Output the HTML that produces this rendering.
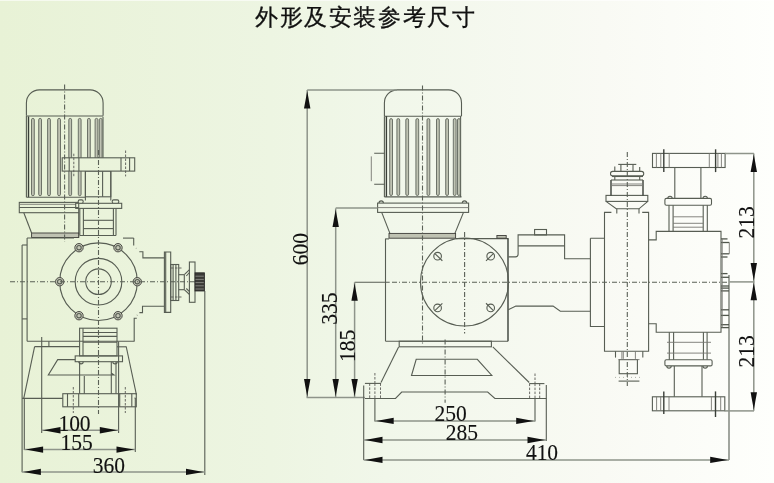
<!DOCTYPE html>
<html><head><meta charset="utf-8">
<style>
html,body{margin:0;padding:0;}
body{width:774px;height:483px;overflow:hidden;position:relative;
background:linear-gradient(to right,#e8f2d6 0%,#edf5e2 35%,#f1f7ea 50%,#f9faf4 78%,#fefffc 100%);
font-family:"Liberation Sans",sans-serif;}
.title{will-change:transform;position:absolute;left:255px;top:1.5px;font-size:23px;letter-spacing:1.6px;color:#111;white-space:nowrap;-webkit-text-stroke:0.3px #111;}
svg{position:absolute;left:0;top:0;will-change:transform;}
.l{fill:none;stroke:#575d53;stroke-width:1.1;}
.lt{fill:none;stroke:#3a3f38;stroke-width:1.4;}
.th{fill:none;stroke:#777772;stroke-width:0.9;}
.dd{fill:none;stroke:#5a6056;stroke-width:1.1;stroke-dasharray:5 2 1 2;}
.ds{fill:none;stroke:#5a5a56;stroke-width:0.9;stroke-dasharray:2.5 1.5;}
.dm{fill:none;stroke:#8e948a;stroke-width:1.5;}
.fin{fill:#bfc3b3;stroke:#5a6056;stroke-width:0.85;}
.gf{fill:#bfc2b2;stroke:#3c3c38;stroke-width:0.9;}
.lb{fill:url(#bg);stroke:#575d53;stroke-width:1.1;}
.spl{stroke:#8a8a84;stroke-width:0.9;}
.dot{fill:none;stroke:#9a9e95;stroke-width:0.8;stroke-dasharray:1 3;}
.nb{fill:none;stroke:#50564c;stroke-width:1.3;}
.ar{fill:#111;stroke:none;}
.t{font-family:"Liberation Serif",serif;font-size:21.5px;fill:#111;stroke:#111;stroke-width:0.12;}
</style></head><body>
<div style="position:absolute;left:0;top:0;width:774px;height:1px;background:rgba(255,255,255,0.6)"></div>
<div class="title">外形及安装参考尺寸</div>
<svg width="774" height="483" viewBox="0 0 774 483">
<defs><linearGradient id="bg" gradientUnits="userSpaceOnUse" x1="0" y1="0" x2="774" y2="0"><stop offset="0" stop-color="#e8f2d6"/><stop offset="0.35" stop-color="#edf5e2"/><stop offset="0.5" stop-color="#f1f7ea"/><stop offset="0.78" stop-color="#f9faf4"/><stop offset="1" stop-color="#fefffc"/></linearGradient></defs>
<path class="l" d="M26.4,115.8 V102.9 A13,13 0 0 1 39.4,89.9 H90.1 A13,13 0 0 1 103.1,102.9 V115.8"/>
<line class="l" x1="26.4" y1="116" x2="103.1" y2="116"/>
<line class="l" x1="26.4" y1="116" x2="26.4" y2="197.3"/>
<line class="lt" x1="28.5" y1="116.5" x2="28.5" y2="197.3"/>
<line class="l" x1="103" y1="116.8" x2="103" y2="197"/>
<rect class="fin" x="31.5" y="118.4" width="2.8" height="77.3" rx="1.4"/>
<rect class="fin" x="38.7" y="118.4" width="2.8" height="77.3" rx="1.4"/>
<rect class="fin" x="47.6" y="118.4" width="2.8" height="77.3" rx="1.4"/>
<rect class="fin" x="57.7" y="118.4" width="2.8" height="77.3" rx="1.4"/>
<rect class="fin" x="68.8" y="118.4" width="2.8" height="77.3" rx="1.4"/>
<rect class="fin" x="78.3" y="118.4" width="2.8" height="77.3" rx="1.4"/>
<rect class="fin" x="87.5" y="118.4" width="2.8" height="77.3" rx="1.4"/>
<rect class="fin" x="95.1" y="118.4" width="2.8" height="77.3" rx="1.4"/>
<rect class="fin" x="99.3" y="118.4" width="2.8" height="77.3" rx="1.4"/>
<line class="l" x1="26.4" y1="197.3" x2="85.4" y2="197.3"/>
<rect class="lb" x="85.4" y="171.1" width="25.4" height="25.7"/>
<line class="l" x1="102.6" y1="171.1" x2="102.6" y2="196.8"/>
<rect class="lb" x="62.2" y="157.8" width="72.5" height="13.3"/>
<line class="l" x1="69.2" y1="157.8" x2="69.2" y2="171.1"/>
<line class="l" x1="78.9" y1="157.8" x2="78.9" y2="171.1"/>
<line class="l" x1="121" y1="157.8" x2="121" y2="171.1"/>
<line class="l" x1="129.6" y1="157.8" x2="129.6" y2="171.1"/>
<line class="ds" x1="73.8" y1="153.7" x2="73.8" y2="176.2"/>
<line class="ds" x1="125.6" y1="150.5" x2="125.6" y2="176.4"/>
<line class="l" x1="85.4" y1="171.1" x2="85.4" y2="200.5"/>
<line class="l" x1="110.8" y1="171.1" x2="110.8" y2="200.5"/>
<rect class="l" x="19.3" y="202.4" width="59.4" height="10.3"/>
<line class="l" x1="19.3" y1="207.5" x2="78.7" y2="207.5"/>
<line class="th" x1="19.3" y1="204.3" x2="76" y2="204.3"/>
<line class="l" x1="23.8" y1="212.7" x2="31.6" y2="233"/>
<line class="l" x1="78.7" y1="212.7" x2="78.7" y2="237.5"/>
<rect class="gf" x="31.6" y="233" width="47.1" height="4.5"/>
<rect class="l" x="75.7" y="203.3" width="46.0" height="5.1"/>
<rect class="lb" x="78.2" y="199.9" width="5.0" height="3.4" rx="1.5"/>
<rect class="lb" x="112.2" y="199.9" width="6.6" height="3.4" rx="1.5"/>
<line class="l" x1="79.8" y1="208.4" x2="79.8" y2="235.5"/>
<line class="l" x1="83.4" y1="208.4" x2="83.4" y2="235.5"/>
<line class="l" x1="113.4" y1="208.4" x2="113.4" y2="235.5"/>
<line class="l" x1="116" y1="208.4" x2="116" y2="235.5"/>
<line class="l" x1="83.4" y1="220.3" x2="113.4" y2="220.3"/>
<line class="l" x1="83.4" y1="228.6" x2="113.4" y2="228.6"/>
<line class="l" x1="27.1" y1="238" x2="74" y2="238"/>
<line class="l" x1="123" y1="238.1" x2="133.7" y2="238.1"/>
<line class="l" x1="79.8" y1="235.5" x2="116" y2="235.5"/>
<line class="l" x1="27.1" y1="238" x2="27.1" y2="341.3"/>
<line class="l" x1="22.1" y1="245" x2="27.1" y2="245"/>
<line class="l" x1="22.1" y1="318.9" x2="27.1" y2="318.9"/>
<line class="l" x1="22.1" y1="245" x2="22.1" y2="472.3"/>
<line class="l" x1="27.1" y1="341.3" x2="134.5" y2="341.3"/>
<path class="l" d="M133.7,238 V245.6"/>
<line class="l" x1="136" y1="248.1" x2="136.3" y2="248.4"/>
<path class="l" d="M139.3,251.7 H142.9 V257.9 H164.4"/>
<path class="l" d="M164.4,306.2 H142.5 V312.6 H139.4"/>
<line class="l" x1="137" y1="315.3" x2="137.3" y2="315.0"/>
<path class="l" d="M136.8,318.3 H134.2 V341.3"/>
<circle class="l" cx="98.5" cy="281.7" r="38.8"/>
<circle class="l" cx="98.5" cy="281.7" r="23.3"/>
<circle class="l" cx="98.5" cy="281.7" r="12.8"/>
<circle cx="79" cy="247.7" r="4.2" fill="#c4c7b6" stroke="#3c3c38" stroke-width="0.9"/>
<circle class="l" cx="79" cy="247.7" r="2.2"/>
<circle cx="118" cy="247.7" r="4.2" fill="#c4c7b6" stroke="#3c3c38" stroke-width="0.9"/>
<circle class="l" cx="118" cy="247.7" r="2.2"/>
<circle cx="59.7" cy="281.7" r="4.2" fill="#c4c7b6" stroke="#3c3c38" stroke-width="0.9"/>
<circle class="l" cx="59.7" cy="281.7" r="2.2"/>
<circle cx="137.3" cy="281.7" r="4.2" fill="#c4c7b6" stroke="#3c3c38" stroke-width="0.9"/>
<circle class="l" cx="137.3" cy="281.7" r="2.2"/>
<circle cx="79" cy="315.7" r="4.2" fill="#c4c7b6" stroke="#3c3c38" stroke-width="0.9"/>
<circle class="l" cx="79" cy="315.7" r="2.2"/>
<circle cx="118" cy="315.7" r="4.2" fill="#c4c7b6" stroke="#3c3c38" stroke-width="0.9"/>
<circle class="l" cx="118" cy="315.7" r="2.2"/>
<line class="dd" x1="10" y1="281.7" x2="205" y2="281.7"/>
<line class="dd" x1="98.5" y1="150" x2="98.5" y2="414"/>
<line class="dd" x1="64.6" y1="84.5" x2="64.6" y2="241.8"/>
<rect class="l" x="79.6" y="328.2" width="37.4" height="27.7"/>
<line class="l" x1="83" y1="328.2" x2="83" y2="355.9"/>
<line class="l" x1="83" y1="332.5" x2="117" y2="332.5"/>
<line class="l" x1="83" y1="336.4" x2="117" y2="336.4"/>
<line class="l" x1="83" y1="342.3" x2="117" y2="342.3"/>
<rect class="l" x="75.2" y="355.9" width="47.3" height="5.8"/>
<path class="l" d="M78.8,361.7 A2.2,2.2 0 0 0 83.2,361.7"/>
<path class="l" d="M112.8,361.7 A2.2,2.2 0 0 0 117.2,361.7"/>
<line class="l" x1="79.6" y1="361.7" x2="79.6" y2="393.7"/>
<line class="l" x1="84.3" y1="376" x2="84.3" y2="393.7"/>
<line class="l" x1="111.3" y1="361.7" x2="111.3" y2="393.7"/>
<line class="l" x1="116" y1="361.7" x2="116" y2="393.7"/>
<rect class="l" x="62.8" y="393.7" width="73.5" height="13.1"/>
<line class="l" x1="67.5" y1="393.7" x2="67.5" y2="406.8"/>
<line class="l" x1="78.7" y1="393.7" x2="78.7" y2="406.8"/>
<line class="l" x1="119.7" y1="393.7" x2="119.7" y2="406.8"/>
<line class="l" x1="131.8" y1="393.7" x2="131.8" y2="406.8"/>
<line class="ds" x1="73.3" y1="387" x2="73.3" y2="413"/>
<line class="ds" x1="125.3" y1="387" x2="125.3" y2="413"/>
<line class="l" x1="34.6" y1="346.6" x2="79.6" y2="346.6"/>
<line class="l" x1="117" y1="346.8" x2="126.3" y2="346.8"/>
<line class="l" x1="48.9" y1="341.3" x2="48.9" y2="346.8"/>
<line class="l" x1="34.6" y1="346.6" x2="23.7" y2="398.6"/>
<line class="l" x1="126.2" y1="346.5" x2="136.4" y2="394.6"/>
<line class="l" x1="22.1" y1="398.4" x2="62.8" y2="398.4"/>
<line class="l" x1="134.5" y1="398" x2="135.5" y2="398"/>
<line class="l" x1="24.3" y1="398.4" x2="24.3" y2="450"/>
<path class="l" d="M75.2,359.6 H57.7 L48.3,375 H114 L111.2,373"/>
<line class="l" x1="41.7" y1="337" x2="41.7" y2="433"/>
<line class="l" x1="118.6" y1="341.5" x2="118.6" y2="433"/>
<line class="l" x1="135.3" y1="398" x2="135.3" y2="452"/>
<line class="l" x1="204.8" y1="291" x2="204.8" y2="475"/>
<line class="dm" x1="41.7" y1="430.2" x2="118.6" y2="430.2"/>
<polygon class="ar" points="42.9,430.2 60.5,427.0 60.5,433.4"/>
<polygon class="ar" points="117.4,430.2 99.8,427.0 99.8,433.4"/>
<text class="t" transform="translate(74.5,431.1) scale(1,1.08)" text-anchor="middle">100</text>
<line class="dm" x1="24.3" y1="449.6" x2="135.3" y2="449.6"/>
<polygon class="ar" points="25.5,449.6 43.1,446.4 43.1,452.8"/>
<polygon class="ar" points="134.1,449.6 116.5,446.4 116.5,452.8"/>
<text class="t" transform="translate(76.7,449.9) scale(1,1.08)" text-anchor="middle">155</text>
<line class="dm" x1="22.1" y1="471.9" x2="204.8" y2="471.9"/>
<polygon class="ar" points="23.3,471.9 40.9,468.7 40.9,475.1"/>
<polygon class="ar" points="203.6,471.9 186.0,468.7 186.0,475.1"/>
<text class="t" transform="translate(108.8,472.9) scale(1,1.08)" text-anchor="middle">360</text>
<path class="l" d="M164.4,252 H170.7 V312.4 H164.4 Z"/>
<line class="l" x1="165.7" y1="252" x2="165.7" y2="312.4"/>
<rect class="l" x="170.7" y="264.5" width="8.0" height="36.0"/>
<line class="l" x1="173.1" y1="264.5" x2="173.1" y2="300.5"/>
<line class="l" x1="175.9" y1="264.5" x2="175.9" y2="300.5"/>
<line class="ds" x1="171" y1="268" x2="182" y2="268"/>
<line class="ds" x1="171" y1="297" x2="182" y2="297"/>
<line class="l" x1="178.7" y1="274.7" x2="184.3" y2="274.7"/>
<line class="l" x1="178.7" y1="289.7" x2="184.3" y2="289.7"/>
<path class="l" d="M184.3,274.7 L189.5,269.7 M184.3,289.7 L189.5,294.5 M186.3,276 L189.5,272.5 M186.3,288.5 L189.5,291.7"/>
<line class="l" x1="184.3" y1="274.7" x2="184.3" y2="289.7"/>
<rect class="l" x="189.4" y="262" width="5.6" height="40.3"/>
<rect x="195" y="272.8" width="9.5" height="18.2" fill="#3a3a36" stroke="#2a2a28" stroke-width="0.8"/>
<line class="spl" x1="195.5" y1="276.2" x2="203.8" y2="276.2"/>
<line class="spl" x1="195.5" y1="279.4" x2="203.8" y2="279.4"/>
<line class="spl" x1="195.5" y1="282.6" x2="203.8" y2="282.6"/>
<line class="spl" x1="195.5" y1="285.8" x2="203.8" y2="285.8"/>
<line class="spl" x1="195.5" y1="289" x2="203.8" y2="289"/>
<path class="l" d="M384.4,116 V102.9 A13,13 0 0 1 397.4,89.9 H448.5 A13,13 0 0 1 461.5,102.9 V116"/>
<line class="l" x1="384.4" y1="116.2" x2="461.5" y2="116.2"/>
<line class="l" x1="384.4" y1="116.2" x2="384.4" y2="197"/>
<line class="lt" x1="386.4" y1="116.2" x2="386.4" y2="197"/>
<line class="l" x1="460.6" y1="116.2" x2="460.6" y2="197"/>
<rect class="fin" x="389.7" y="118.6" width="2.8" height="76.9" rx="1.4"/>
<rect class="fin" x="396.9" y="118.6" width="2.8" height="76.9" rx="1.4"/>
<rect class="fin" x="405.8" y="118.6" width="2.8" height="76.9" rx="1.4"/>
<rect class="fin" x="415.9" y="118.6" width="2.8" height="76.9" rx="1.4"/>
<rect class="fin" x="427.0" y="118.6" width="2.8" height="76.9" rx="1.4"/>
<rect class="fin" x="436.5" y="118.6" width="2.8" height="76.9" rx="1.4"/>
<rect class="fin" x="445.7" y="118.6" width="2.8" height="76.9" rx="1.4"/>
<rect class="fin" x="453.3" y="118.6" width="2.8" height="76.9" rx="1.4"/>
<rect class="fin" x="457.5" y="118.6" width="2.8" height="76.9" rx="1.4"/>
<line class="l" x1="384.4" y1="196.9" x2="461.5" y2="196.9"/>
<path class="l" d="M384.4,153.2 H374.2 M384.4,184.3 H374.2"/>
<line class="th" x1="371.3" y1="156.4" x2="371.3" y2="181.2"/>
<rect class="l" x="377.6" y="203.1" width="91.0" height="9.3"/>
<line class="th" x1="377.6" y1="207.6" x2="468.6" y2="207.6"/>
<path class="l" d="M379,203.1 A2.2,2.2 0 0 1 383.4,203.1"/>
<path class="l" d="M462.3,203.1 A2.2,2.2 0 0 1 466.7,203.1"/>
<line class="l" x1="381.7" y1="212.4" x2="390" y2="233.6"/>
<line class="l" x1="463.5" y1="212.4" x2="454.8" y2="233.6"/>
<rect class="gf" x="389" y="233.4" width="66.6" height="4.8"/>
<line class="l" x1="385.5" y1="238.9" x2="385.5" y2="341.2"/>
<line class="l" x1="385.2" y1="238.9" x2="389" y2="238.9"/>
<line class="l" x1="455.6" y1="238.6" x2="508.3" y2="238.6"/>
<line class="lt" x1="508" y1="238.2" x2="508" y2="341.2"/>
<line class="l" x1="385.5" y1="341.2" x2="508" y2="341.2"/>
<rect class="gf" x="496.9" y="235.5" width="9.3" height="2.7"/>
<circle class="l" cx="464.5" cy="282" r="44"/>
<circle class="l" cx="437.6" cy="256.2" r="3.8"/>
<line class="l" x1="434.86" y1="253.57" x2="442.36" y2="260.77"/>
<circle class="l" cx="490.7" cy="256.2" r="3.8"/>
<line class="l" x1="493.41" y1="253.53" x2="486.0" y2="260.83"/>
<circle class="l" cx="437.6" cy="307.9" r="3.8"/>
<line class="l" x1="434.86" y1="310.54" x2="442.35" y2="303.32"/>
<circle class="l" cx="490.7" cy="307.9" r="3.8"/>
<line class="l" x1="493.4" y1="310.57" x2="486.01" y2="303.26"/>
<rect class="l" x="399.2" y="341.2" width="92.2" height="5.6"/>
<line class="l" x1="398.6" y1="346.9" x2="381" y2="382.5"/>
<line class="l" x1="492.8" y1="346.9" x2="529.2" y2="382.5"/>
<path class="l" d="M416.2,359.3 H477.3 L491.8,375.5 H411.5 Z"/>
<path class="l" d="M364.9,398.5 H395.5 L401.7,392 H487.7 L494.9,398.5 H546.4"/>
<line class="l" x1="364.9" y1="383.4" x2="381.1" y2="383.4"/>
<line class="ds" x1="369.7" y1="383.4" x2="369.7" y2="398.5"/>
<line class="ds" x1="374.9" y1="383.4" x2="374.9" y2="398.5"/>
<line class="ds" x1="380.5" y1="383.4" x2="380.5" y2="398.5"/>
<line class="ds" x1="374.9" y1="373" x2="374.9" y2="383.4"/>
<line class="l" x1="374.9" y1="398.5" x2="374.9" y2="421.5"/>
<line class="l" x1="529.3" y1="383.6" x2="544.4" y2="383.6"/>
<line class="ds" x1="529.6" y1="383.6" x2="529.6" y2="398.5"/>
<line class="ds" x1="535" y1="383.6" x2="535" y2="398.5"/>
<line class="ds" x1="539.7" y1="383.6" x2="539.7" y2="398.5"/>
<line class="ds" x1="535" y1="373.5" x2="535" y2="383.6"/>
<line class="l" x1="535" y1="398.5" x2="535" y2="421.5"/>
<line class="dd" x1="422.5" y1="85.6" x2="422.5" y2="344.9"/>
<line class="dd" x1="464.6" y1="232" x2="464.6" y2="333.5"/>
<line class="dd" x1="445.1" y1="339.5" x2="445.1" y2="402.8"/>
<line class="l" x1="354.6" y1="282.2" x2="389.7" y2="282.2"/>
<line class="dd" x1="392" y1="282.2" x2="729" y2="282.2"/>
<line class="dm" x1="307.2" y1="89.9" x2="397" y2="89.9"/>
<line class="dm" x1="335.7" y1="208" x2="377.6" y2="208"/>
<line class="dm" x1="306.6" y1="397.6" x2="364.9" y2="397.6"/>
<line class="dm" x1="307.2" y1="90" x2="307.2" y2="397.4"/>
<polygon class="ar" points="307.2,91.0 304.0,108.6 310.4,108.6"/>
<polygon class="ar" points="307.2,396.5 304.0,378.9 310.4,378.9"/>
<line class="dm" x1="335.7" y1="208.3" x2="335.7" y2="397.4"/>
<polygon class="ar" points="335.7,209.5 332.5,227.1 338.9,227.1"/>
<polygon class="ar" points="335.7,396.5 332.5,378.9 338.9,378.9"/>
<line class="dm" x1="354.6" y1="282.3" x2="354.6" y2="397.4"/>
<polygon class="ar" points="354.6,283.2 351.4,300.8 357.8,300.8"/>
<polygon class="ar" points="354.6,396.5 351.4,378.9 357.8,378.9"/>
<text class="t" transform="translate(308.4,249.2) rotate(-90) scale(1,1.08)" text-anchor="middle">600</text>
<text class="t" transform="translate(337,308.6) rotate(-90) scale(1,1.08)" text-anchor="middle">335</text>
<text class="t" transform="translate(355.4,345.8) rotate(-90) scale(1,1.08)" text-anchor="middle">185</text>
<line class="l" x1="363.7" y1="385.5" x2="363.7" y2="460"/>
<line class="l" x1="546.3" y1="385" x2="546.3" y2="441"/>
<line class="l" x1="729" y1="275" x2="729" y2="460.1"/>
<line class="dm" x1="374.9" y1="420.9" x2="535" y2="420.9"/>
<polygon class="ar" points="376.1,420.9 393.7,417.7 393.7,424.1"/>
<polygon class="ar" points="533.8,420.9 516.2,417.7 516.2,424.1"/>
<text class="t" transform="translate(450.6,420.6) scale(1,1.08)" text-anchor="middle">250</text>
<line class="dm" x1="363.7" y1="440" x2="546.3" y2="440"/>
<polygon class="ar" points="364.9,440 382.5,436.8 382.5,443.2"/>
<polygon class="ar" points="545.1,440 527.5,436.8 527.5,443.2"/>
<text class="t" transform="translate(461.9,439.9) scale(1,1.08)" text-anchor="middle">285</text>
<line class="dm" x1="363.7" y1="459.9" x2="729" y2="459.9"/>
<polygon class="ar" points="364.9,459.9 382.5,456.7 382.5,463.1"/>
<polygon class="ar" points="727.8,459.9 710.2,456.7 710.2,463.1"/>
<text class="t" transform="translate(542,460.3) scale(1,1.08)" text-anchor="middle">410</text>
<path class="l" d="M508.4,256.9 H515.5 Q518.1,256.9 518.1,254 V234.9 H564.6 V258.8 H590.4"/>
<line class="l" x1="518.1" y1="245.9" x2="564.6" y2="245.9"/>
<rect class="l" x="534.6" y="229.5" width="11.9" height="5.4"/>
<path class="l" d="M508.2,309.7 L515.9,306.1 H553.1 L560.3,311.3 H590.4"/>
<path class="l" d="M590.4,238.2 H604.5 M590.4,238.2 V326.5 H604.5"/>
<path class="l" d="M611.4,212.4 H604.5 V351.2 H648.6 V212.4 H642.2"/>
<line class="l" x1="616.8" y1="208.8" x2="616.8" y2="213.5"/>
<line class="l" x1="639" y1="208.8" x2="639" y2="213.5"/>
<rect class="l" x="606" y="195.4" width="41.8" height="6.0"/>
<path class="l" d="M606,201.4 L616.2,208.8 H639 L647.8,201.4"/>
<path class="lt" d="M611,180 V195.4 M643,180 V195.4"/>
<line class="l" x1="612" y1="176.5" x2="643" y2="176.5"/>
<line class="l" x1="611" y1="180" x2="643" y2="180"/>
<line class="th" x1="611" y1="184" x2="643" y2="184"/>
<line class="th" x1="611" y1="185.6" x2="643" y2="185.6"/>
<line class="l" x1="614.8" y1="175.9" x2="614.8" y2="180"/>
<line class="l" x1="639.7" y1="175.9" x2="639.7" y2="180"/>
<rect class="l" x="610.5" y="171.4" width="33.2" height="4.5" rx="2.2"/>
<line class="l" x1="618.2" y1="164.4" x2="636.3" y2="164.4"/>
<line class="l" x1="614.8" y1="166.5" x2="614.8" y2="171.4"/>
<line class="l" x1="620.9" y1="164.4" x2="620.9" y2="171.4"/>
<line class="l" x1="633" y1="164.4" x2="633" y2="171.4"/>
<line class="l" x1="639.7" y1="167.1" x2="639.7" y2="171.4"/>
<line class="dd" x1="627.3" y1="152" x2="627.3" y2="386"/>
<path class="l" d="M648.6,239.9 H656.2 V231.4 H721 V332.3 H656.2 V323.8 H648.6"/>
<line class="nb" x1="721" y1="238.9" x2="727.5" y2="238.9"/>
<line class="nb" x1="721" y1="242.5" x2="729.3" y2="242.5"/>
<line class="nb" x1="721" y1="253.8" x2="729.3" y2="253.8"/>
<line class="nb" x1="721" y1="257" x2="727.5" y2="257"/>
<line class="nb" x1="721" y1="273.6" x2="727.5" y2="273.6"/>
<line class="nb" x1="721" y1="277.3" x2="729" y2="277.3"/>
<line class="nb" x1="721" y1="286" x2="729" y2="286"/>
<line class="nb" x1="721" y1="288.1" x2="729" y2="288.1"/>
<line class="nb" x1="721" y1="290.9" x2="729" y2="290.9"/>
<line class="nb" x1="721" y1="309.8" x2="729" y2="309.8"/>
<line class="nb" x1="721" y1="315.4" x2="729" y2="315.4"/>
<line class="nb" x1="721" y1="324.7" x2="729" y2="324.7"/>
<line class="nb" x1="721" y1="327.6" x2="729" y2="327.6"/>
<line class="th" x1="729.3" y1="242.5" x2="729.3" y2="253.8"/>
<line class="th" x1="722.2" y1="238.9" x2="722.2" y2="327.6"/>
<line class="l" x1="615.5" y1="351.2" x2="615.5" y2="357.6"/>
<line class="l" x1="642.8" y1="351.2" x2="642.8" y2="357.6"/>
<path class="th" d="M621.9,351.2 V358.9 M623.3,351.2 V358.9 M635.4,351.2 V358.9"/>
<rect class="l" x="619.2" y="359.6" width="18.2" height="14.1"/>
<line class="th" x1="618.5" y1="359.6" x2="639.5" y2="359.6"/>
<line class="dot" x1="615" y1="377.4" x2="643" y2="377.4"/>
<line class="l" x1="618.6" y1="381.1" x2="639.4" y2="381.1"/>
<rect class="l" x="652.5" y="153.4" width="72.6" height="14.1"/>
<line class="th" x1="656.4" y1="153.4" x2="656.4" y2="167.5"/>
<line class="th" x1="660.8" y1="153.4" x2="660.8" y2="167.5"/>
<line class="th" x1="669.2" y1="153.4" x2="669.2" y2="167.5"/>
<line class="th" x1="709.3" y1="153.4" x2="709.3" y2="167.5"/>
<line class="th" x1="717.9" y1="153.4" x2="717.9" y2="167.5"/>
<line class="th" x1="721.4" y1="153.4" x2="721.4" y2="167.5"/>
<line class="lt" x1="663.8" y1="149.3" x2="663.8" y2="172.1"/>
<line class="lt" x1="715.6" y1="149.3" x2="715.6" y2="172.1"/>
<line class="l" x1="674.8" y1="167.5" x2="674.8" y2="198.1"/>
<line class="l" x1="700.9" y1="167.5" x2="700.9" y2="198.1"/>
<rect class="l" x="664.9" y="198.4" width="46.6" height="6.8" rx="1.5"/>
<path class="l" d="M667.8,198.4 A2.2,2.2 0 0 1 672.2,198.4"/>
<path class="l" d="M703,198.4 A2.2,2.2 0 0 1 707.4,198.4"/>
<line class="l" x1="669" y1="205.2" x2="669" y2="231.4"/>
<line class="l" x1="673.1" y1="205.2" x2="673.1" y2="231.4"/>
<line class="l" x1="703.2" y1="205.2" x2="703.2" y2="231.4"/>
<line class="l" x1="707.3" y1="205.2" x2="707.3" y2="231.4"/>
<line class="th" x1="673.1" y1="216.8" x2="703.2" y2="216.8"/>
<line class="th" x1="673.1" y1="223.3" x2="703.2" y2="223.3"/>
<line class="th" x1="673.1" y1="227.2" x2="703.2" y2="227.2"/>
<line class="l" x1="669.3" y1="332.3" x2="669.3" y2="359.7"/>
<line class="l" x1="673.6" y1="332.3" x2="673.6" y2="359.7"/>
<line class="l" x1="703.4" y1="332.3" x2="703.4" y2="359.7"/>
<line class="l" x1="707.1" y1="332.3" x2="707.1" y2="359.7"/>
<line class="th" x1="667" y1="342.3" x2="711" y2="342.3"/>
<line class="th" x1="667" y1="353.1" x2="711" y2="353.1"/>
<rect class="l" x="664.9" y="359.7" width="47.2" height="6.2" rx="1.5"/>
<path class="l" d="M666.8,365.9 A2.2,2.2 0 0 0 671.2,365.9"/>
<path class="l" d="M703,365.9 A2.2,2.2 0 0 0 707.4,365.9"/>
<line class="l" x1="674.3" y1="366" x2="674.3" y2="396.8"/>
<line class="l" x1="702" y1="366" x2="702" y2="396.8"/>
<rect class="l" x="652.4" y="396.8" width="72.4" height="14.0"/>
<line class="th" x1="656.6" y1="396.8" x2="656.6" y2="410.8"/>
<line class="th" x1="660.7" y1="396.8" x2="660.7" y2="410.8"/>
<line class="th" x1="669" y1="396.8" x2="669" y2="410.8"/>
<line class="th" x1="711.4" y1="396.8" x2="711.4" y2="410.8"/>
<line class="th" x1="720.7" y1="396.8" x2="720.7" y2="410.8"/>
<line class="lt" x1="663.8" y1="391.4" x2="663.8" y2="414"/>
<line class="lt" x1="715.5" y1="391.4" x2="715.5" y2="417"/>
<line class="dm" x1="724.9" y1="153.5" x2="753.9" y2="153.5"/>
<line class="dm" x1="729.3" y1="281.9" x2="754.2" y2="281.9"/>
<line class="dm" x1="724.5" y1="410.9" x2="754" y2="410.9"/>
<line class="dm" x1="753.8" y1="153.5" x2="753.8" y2="410.8"/>
<polygon class="ar" points="753.8,154.5 750.6,172.1 757.0,172.1"/>
<polygon class="ar" points="753.8,280.7 750.6,263.1 757.0,263.1"/>
<polygon class="ar" points="753.8,282.7 750.6,300.3 757.0,300.3"/>
<polygon class="ar" points="753.8,409.8 750.6,392.2 757.0,392.2"/>
<text class="t" transform="translate(754.3,222.4) rotate(-90) scale(1,1.08)" text-anchor="middle">213</text>
<text class="t" transform="translate(754.1,351.3) rotate(-90) scale(1,1.08)" text-anchor="middle">213</text>
</svg>
</body></html>
